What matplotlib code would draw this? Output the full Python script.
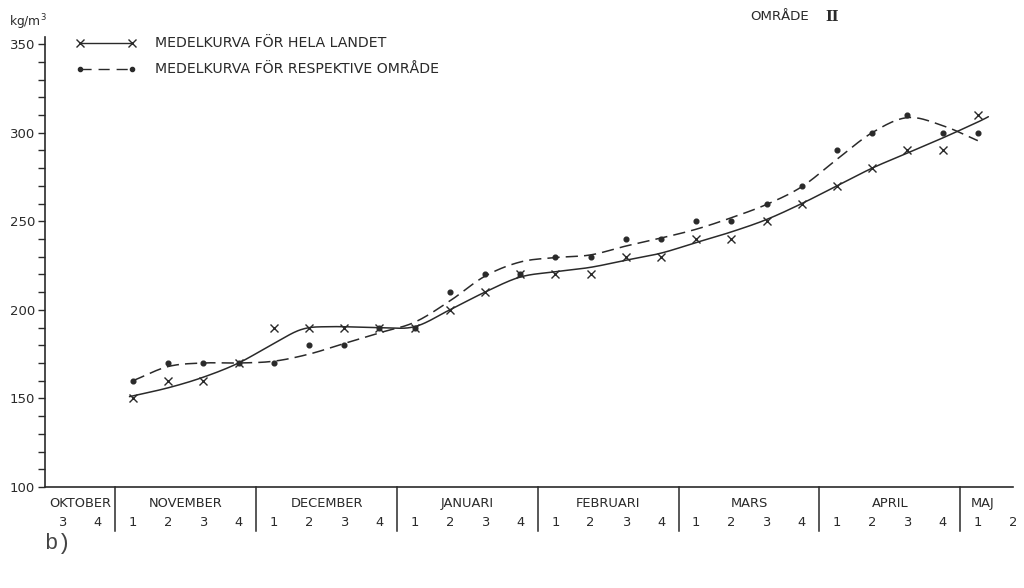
import matplotlib.pyplot as plt
import numpy as np
from matplotlib.lines import Line2D
from matplotlib.transforms import blended_transform_factory

# month headings and their week numbers along the x axis
months = ["OKTOBER", "NOVEMBER", "DECEMBER", "JANUARI", "FEBRUARI", "MARS", "APRIL", "MAJ"]
month_weeks = [[3, 4], [1, 2, 3, 4], [1, 2, 3, 4], [1, 2, 3, 4],
               [1, 2, 3, 4], [1, 2, 3, 4], [1, 2, 3, 4], [1, 2]]

# weekly snow density, kg/m3 (week index 0 = oktober v.3, 2 = november v.1)
week_idx = list(range(2, 27))
land_pts = [150, 160, 160, 170, 190, 190, 190, 190, 190, 200, 210, 220, 220,
            220, 230, 230, 240, 240, 250, 260, 270, 280, 290, 290, 310]
area_pts = [160, 170, 170, 170, 170, 180, 180, 190, 190, 210, 220, 220, 230,
            230, 240, 240, 250, 250, 260, 270, 290, 300, 310, 300, 300]

# hand-drawn mean curves (knots)
land_curve_x = [1.9, 3, 4, 5, 6, 6.8, 7.6, 9, 10, 11, 12, 13, 14, 15, 16, 17,
                18, 19, 20, 21, 22, 23, 24, 25, 26, 26.3]
land_curve_y = [151, 156, 162, 170, 181, 189, 190.5, 190, 190.5, 200, 210, 218.5,
                221.5, 224, 228, 232, 238, 244, 251, 260, 270, 280, 288.5, 297, 306, 309]
area_curve_x = [2, 3, 4, 5, 6, 7, 8, 9, 10, 11, 12, 13, 14, 15, 16, 17, 18, 19,
                20, 21, 22, 23, 24, 25, 26]
area_curve_y = [160, 168, 170, 170, 171, 175, 181, 187, 193, 205, 219, 227, 229.5,
                231, 236, 240.5, 245.5, 252, 259.5, 269.5, 285, 300, 308.5, 304, 295.5]

INK = "#2a2a2a"


def smooth(xs, ys, n=20):
    # Catmull-Rom spline through the knots
    p = np.column_stack([xs, ys]).astype(float)
    p = np.vstack([2 * p[0] - p[1], p, 2 * p[-1] - p[-2]])
    out = []
    t = np.linspace(0, 1, n, endpoint=False)[:, None]
    for k in range(1, len(p) - 2):
        p0, p1, p2, p3 = p[k - 1], p[k], p[k + 1], p[k + 2]
        seg = 0.5 * ((2 * p1) + (-p0 + p2) * t + (2 * p0 - 5 * p1 + 4 * p2 - p3) * t ** 2
                     + (-p0 + 3 * p1 - 3 * p2 + p3) * t ** 3)
        out.append(seg)
    out.append(p[-2][None, :])
    out = np.vstack(out)
    return out[:, 0], out[:, 1]


plt.rcParams['font.family'] = ['DejaVu Sans']
fig = plt.figure(figsize=(10.24, 5.88), dpi=100)
ax = fig.add_axes([45 / 1024, 101 / 588, 968 / 1024, 450 / 588])

lx, ly = smooth(land_curve_x, land_curve_y)
ax.plot(lx, ly, color=INK, lw=1.1, solid_capstyle='round')
ax.plot(week_idx, land_pts, ls='none', marker='x', ms=5.5, mew=1.0, color=INK)

axx, ay = smooth(area_curve_x, area_curve_y)
ax.plot(axx, ay, color=INK, lw=1.1, dashes=(8, 4))
ax.plot(week_idx, area_pts, ls='none', marker='o', ms=3.4, color=INK)

ax.set_xlim(-0.5, 27)
ax.set_ylim(100, 354)
for s in ['top', 'right']:
    ax.spines[s].set_visible(False)
for s in ['left', 'bottom']:
    ax.spines[s].set_color(INK)
    ax.spines[s].set_linewidth(1.2)

ax.set_yticks([100, 150, 200, 250, 300, 350])
ax.set_yticks(np.arange(100, 351, 10), minor=True)
ax.tick_params(axis='y', which='both', direction='out', length=5, width=1.0,
               color=INK, labelsize=9.5, labelcolor=INK, pad=2)
ax.set_xticks([])

# month and week rows under the axis
tr = blended_transform_factory(ax.transData, ax.transAxes)
pos = 0
for name, weeks in zip(months, month_weeks):
    xs = list(range(pos, pos + len(weeks)))
    if name == "MAJ":
        mid = pos + 0.15
    else:
        mid = (xs[0] + xs[-1]) / 2
    ax.text(mid, -0.036, name, transform=tr, ha='center', va='center',
            fontsize=9.4, color=INK)
    for x, w in zip(xs, weeks):
        ax.text(x, -0.078, str(w), transform=tr, ha='center', va='center',
                fontsize=9.4, color=INK)
    pos += len(weeks)
    if name != "MAJ":
        ax.plot([pos - 0.5, pos - 0.5], [0, -0.098], transform=tr, color=INK,
                lw=1.1, clip_on=False)


def fx(px):
    return px / 1024


def fy(py):
    return 1 - py / 588


# legend
fig.add_artist(Line2D([fx(80), fx(132)], [fy(43), fy(43)], color=INK, lw=1.0,
                      marker='x', ms=5.5, mew=1.0, markevery=[0, 1]))
fig.add_artist(Line2D([fx(80), fx(132)], [fy(69), fy(69)], color=INK, lw=1.0,
                      dashes=(8, 5), marker='o', ms=3, markevery=[0, 1]))
fig.text(fx(155), fy(43), "MEDELKURVA FÖR HELA LANDET", fontsize=10.2,
         color=INK, va='center')
fig.text(fx(155), fy(69), "MEDELKURVA FÖR RESPEKTIVE OMRÅDE", fontsize=10.2,
         color=INK, va='center')

fig.text(fx(9), fy(22), "kg/m$^3$", fontsize=8.8, color=INK, va='center')
fig.text(fx(750), fy(17), "OMRÅDE", fontsize=9.6, color=INK, va='center')
fig.text(fx(825), fy(17), "II", fontsize=10.5, color=INK, va='center',
         family='DejaVu Serif', fontweight='bold')
fig.text(fx(44), fy(543), "b)", fontsize=16, color="#444444", va='center',
         family='Liberation Mono')

fig.savefig("out.png", dpi=100, facecolor='white')
